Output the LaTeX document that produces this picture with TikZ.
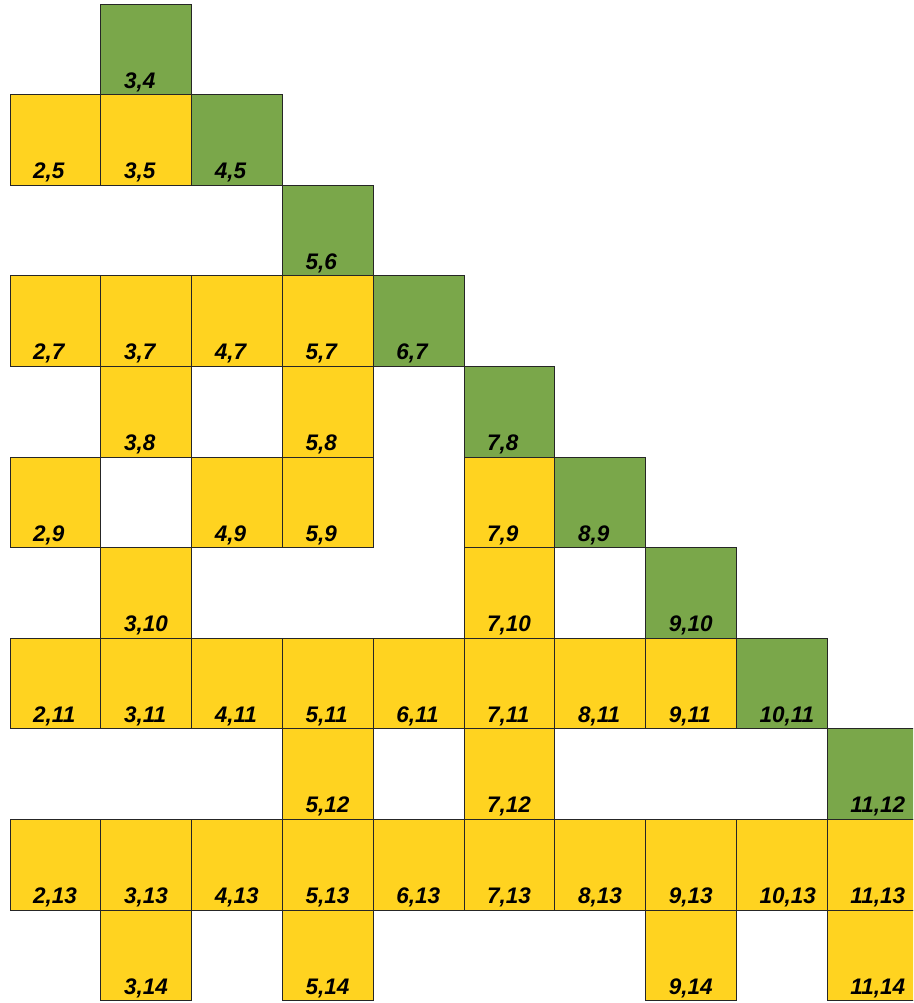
\documentclass[tikz,border=0pt]{standalone}
\usepackage{fontspec}
\setmainfont{Liberation Sans}
\definecolor{cyel}{HTML}{FFD320}
\definecolor{cgrn}{HTML}{7AA74A}
\tikzset{
  cell/.style={draw=black!85, line width=0.9pt, minimum width=90.8pt, minimum height=90.6pt,
    inner sep=0pt, outer sep=0pt, anchor=north west},
  ycell/.style={cell, fill=cyel},
  gcell/.style={cell, fill=cgrn},
  lbl/.style={anchor=base west, inner sep=0pt, xshift=23pt, yshift=6.5pt,
    font=\fontsize{22.5}{26}\selectfont\bfseries\itshape, text=black}
}
\begin{document}
\begin{tikzpicture}[x=1pt,y=1pt]
\useasboundingbox (0,0) rectangle (913,-1003);
\clip (0,0) rectangle (913,-1003);
\foreach \i/\j in {2/5,3/5, 2/7,3/7,4/7,5/7, 3/8,5/8, 2/9,4/9,5/9,7/9, 3/10,7/10,
  2/11,3/11,4/11,5/11,6/11,7/11,8/11,9/11, 5/12,7/12,
  2/13,3/13,4/13,5/13,6/13,7/13,8/13,9/13,10/13,11/13, 3/14,5/14,9/14,11/14}
  \node[ycell, label={[lbl]south west:\i,\j}] (c\i-\j) at ({10+90.8*(\i-2)},{-(4+90.6*(\j-4))}) {};
\foreach \i/\j in {3/4,4/5,5/6,6/7,7/8,8/9,9/10,10/11,11/12}
  \node[gcell, label={[lbl]south west:\i,\j}] (c\i-\j) at ({10+90.8*(\i-2)},{-(4+90.6*(\j-4))}) {};
\end{tikzpicture}
\end{document}
